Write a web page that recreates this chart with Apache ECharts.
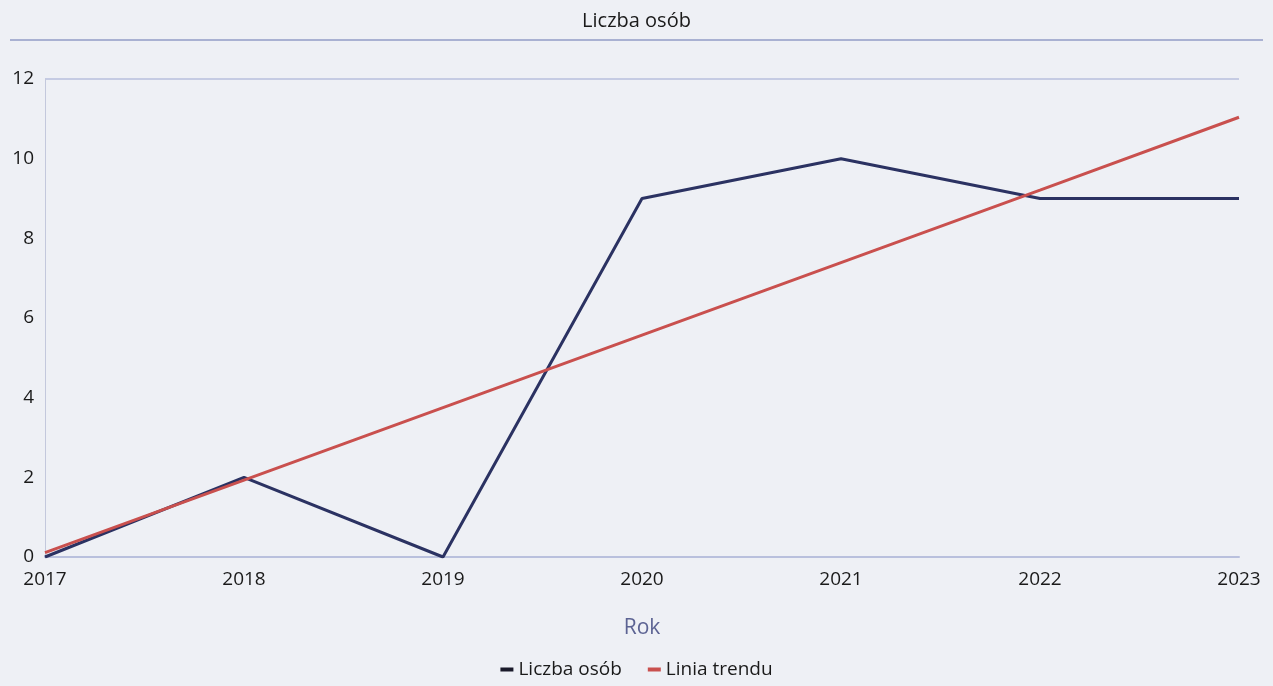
<!DOCTYPE html>
<html><head><meta charset="utf-8">
<script src="https://cdn.jsdelivr.net/npm/echarts@6/dist/echarts.min.js"></script>
<style>html,body{margin:0;padding:0;background:#eef0f5;}#c{width:1273px;height:686px;}</style>
</head><body><div id="c"></div>
<script>
const categories = ['2017','2018','2019','2020','2021','2022','2023'];
const liczbaOsob = [0, 2, 0, 9, 10, 9, 9];
const liniaTrendu = [0.11, 1.93, 3.75, 5.57, 7.39, 9.21, 11.04];
const yTicks = [0, 2, 4, 6, 8, 10, 12];

const chart = echarts.init(document.getElementById('c'));
chart.setOption({
  backgroundColor: '#eef0f5',
  animation: false,
  textStyle: { fontFamily: 'Open Sans' },
  title: { text: 'Liczba osób', left: 'center', top: 6,
    textStyle: { fontSize: 20, fontWeight: 'normal', color: '#1a1a1a', fontFamily: 'Open Sans' } },
  graphic: [{ type: 'line', shape: { x1: 10, y1: 40, x2: 1263, y2: 40 },
    style: { stroke: '#a9b1d2', lineWidth: 2 } }],
  legend: { bottom: 2, left: 'center', itemWidth: 13, itemHeight: 4, itemGap: 26, icon: 'rect',
    textStyle: { fontSize: 19, color: '#1a1a1a' },
    data: ['Liczba osób', 'Linia trendu'] },
  grid: { left: 45, right: 34, top: 79, bottom: 129 },
  xAxis: { type: 'category', data: categories, boundaryGap: false,
    name: 'Rok', nameLocation: 'middle', nameGap: 61,
    nameTextStyle: { fontSize: 21, color: '#5c6393' },
    axisLine: { lineStyle: { color: '#b9c0dd', width: 2 } },
    axisTick: { show: false },
    axisLabel: { fontSize: 19, color: '#1a1a1a', margin: 13 } },
  yAxis: { type: 'value', min: 0, max: 12, interval: 2,
    axisLine: { show: true, lineStyle: { color: '#c3c8dc', width: 1 } },
    axisLabel: { fontSize: 19, color: '#1a1a1a', margin: 11,
      formatter: v => yTicks.includes(v) ? String(v) : '' },
    splitLine: { show: true, lineStyle: { color: ['transparent','transparent','transparent','transparent','transparent','transparent','#c5cbe3'], width: 2 } } },
  series: [
    { name: 'Liczba osób', type: 'line', data: liczbaOsob, symbol: 'none',
      lineStyle: { color: '#2b3262', width: 3 }, itemStyle: { color: '#1a1a2a' } },
    { name: 'Linia trendu', type: 'line', data: liniaTrendu, symbol: 'none',
      lineStyle: { color: '#c9504e', width: 3 }, itemStyle: { color: '#c9504e' } }
  ]
});
</script></body></html>
